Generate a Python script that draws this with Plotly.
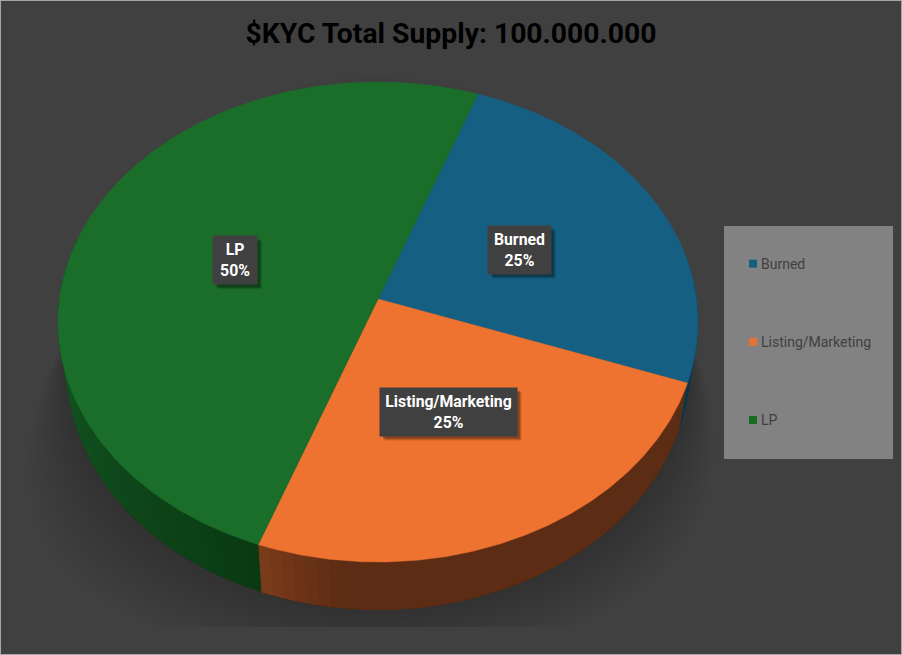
import numpy as np
import plotly.graph_objects as go

# --- data ---
categories = ["Burned", "Listing/Marketing", "LP"]
values = [25, 25, 50]
top_colors = ["#156082", "#EE7331", "#1B6E2A"]
legend_colors = ["#156082", "#E97132", "#196B24"]
title_text = "$KYC Total Supply: 100.000.000"

# --- perspective model of the disc, in page pixels ---
W, H = 902, 655
CX, CY, A, B, K = 378, 299, 318.5, 237.8, 0.0958
FIRST_ANGLE = 20
BOTTOM_SX, BOTTOM_SY, BOTTOM_DY = 0.974, 1.015, 43.7


def project(theta, r=1.0, sx=1.0, sy=1.0, dy=0.0):
    t = np.radians(theta)
    u, v = r * np.sin(t), r * np.cos(t)
    w = 1 + K * v
    return CX + sx * A * u / w, CY + dy - sy * B * v / w


def bottom(theta, r=1.0):
    return project(theta, r, BOTTOM_SX, BOTTOM_SY, BOTTOM_DY)


def mix(c1, c2, f):
    f = min(max(f, 0), 1)
    a = [int(c1[i:i + 2], 16) for i in (1, 3, 5)]
    b = [int(c2[i:i + 2], 16) for i in (1, 3, 5)]
    return "rgb(%d,%d,%d)" % tuple(round(p + (q - p) * f) for p, q in zip(a, b))


def side_color(i, theta):
    if i == 2:  # LP
        return mix("#0A3A12", "#17602A", (theta - 200) / 85)
    if i == 1:  # Listing/Marketing
        return mix("#5C2C14", "#7C3C1A", (theta - 186) / 14)
    return "#013A54"


fig = go.Figure()

# soft ground shadow, fading out above the disc's widest line
SHADOW_FLOOR, SHADOW_TOP = 627, 330
for n in range(14, 0, -1):
    th = np.linspace(0, 360, 181)
    x, y = bottom(th)
    f = np.clip((y - SHADOW_TOP) / 200, 0, 1)
    x = x + (x - CX) * n * 0.02 * f - n * 1.0 * f
    y = SHADOW_TOP + (y - SHADOW_TOP) * (1 + n * 0.016)
    y = np.minimum(y, SHADOW_FLOOR)
    fig.add_trace(go.Scatter(x=x, y=y, mode="lines", fill="toself", line=dict(width=0),
                             fillcolor="rgba(0,0,0,0.016)", hoverinfo="skip", showlegend=False))

# slice angles
total = sum(values)
edges = [FIRST_ANGLE]
for val in values:
    edges.append(edges[-1] + 360 * val / total)

# rim of the disc: each band runs to the slice end, the next one paints over it
for i in range(len(values)):
    lo, hi = edges[i], edges[i + 1]
    a0 = max(lo, 80)
    a1 = min(hi, 285)
    if a1 <= a0:
        continue
    steps = np.arange(a0, a1, 2.0).tolist() + [a1]
    for t0, t1 in zip(steps[:-1], steps[1:]):
        ts = np.linspace(t0, a1, 60)
        xt, yt = project(ts)
        xb, yb = bottom(ts)
        c = side_color(i, (t0 + t1) / 2)
        fig.add_trace(go.Scatter(x=np.r_[xt, xb[::-1]], y=np.r_[yt, yb[::-1]], mode="lines",
                                 fill="toself", fillcolor=c, line=dict(width=0),
                                 hoverinfo="skip", showlegend=False))

# top face
for i, cat in enumerate(categories):
    ts = np.linspace(edges[i], edges[i + 1], 181)
    xt, yt = project(ts)
    fig.add_trace(go.Scatter(x=np.r_[CX, xt, CX], y=np.r_[CY, yt, CY], mode="lines", fill="toself",
                             fillcolor=top_colors[i], line=dict(width=0.5, color=top_colors[i]),
                             name=cat, hoverinfo="name", showlegend=False))

# legend entries
for i, cat in enumerate(categories):
    fig.add_trace(go.Scatter(x=[None], y=[None], mode="markers", name=cat, legendgroup=cat,
                             marker=dict(symbol="square", size=8, color=legend_colors[i])))

# shapes and labels
box_w = [63, 137, 44]
box_h = 48
label_r = [0.5, 0.5, 0.485]
shapes = [
    dict(type="rect", xref="x", yref="y", x0=724, x1=893, y0=226, y1=459, layer="above",
         fillcolor="#828282", line=dict(width=0)),
    dict(type="rect", xref="paper", yref="paper", x0=0, x1=1, y0=0, y1=1, layer="above",
         fillcolor="rgba(0,0,0,0)", line=dict(width=2, color="#A6A6A6")),
]
annotations = []
for i, cat in enumerate(categories):
    mid = (edges[i] + edges[i + 1]) / 2
    lx, ly = project(mid, label_r[i])
    lx, ly = float(lx), float(ly)
    for off, alpha in ((5, 0.10), (4, 0.15), (3, 0.22)):
        shapes.append(dict(type="rect", xref="x", yref="y", layer="above",
                           x0=lx - box_w[i] / 2 + off, x1=lx + box_w[i] / 2 + off,
                           y0=ly - box_h / 2 + off, y1=ly + box_h / 2 + off,
                           fillcolor="rgba(0,0,0,%.2f)" % alpha, line=dict(width=0)))
    pct = round(100 * values[i] / total)
    annotations.append(dict(x=lx, y=ly, xref="x", yref="y", showarrow=False, align="center",
                            text="<b>%s</b><br><b>%d%%</b>" % (cat, pct),
                            width=box_w[i], height=box_h, bgcolor="#404040", borderpad=0,
                            font=dict(family="Roboto", size=15.8, color="white")))

fig.update_layout(
    width=W, height=H, margin=dict(l=0, r=0, t=0, b=0), autosize=False,
    paper_bgcolor="#404040", plot_bgcolor="#404040",
    title=dict(text="<b>%s</b>" % title_text, x=0.5, xanchor="center", xref="paper",
               y=1 - 33 / H, yanchor="middle", yref="paper",
               font=dict(family="Roboto", size=28.3, color="#000000")),
    xaxis=dict(range=[0, W], visible=False, domain=[0, 1]),
    yaxis=dict(range=[H, 0], visible=False, domain=[0, 1]),
    shapes=shapes, annotations=annotations,
    showlegend=True,
    legend=dict(x=733 / W, y=1 - 248 / H, xanchor="left", yanchor="top", bgcolor="rgba(0,0,0,0)",
                tracegroupgap=57, itemclick=False, itemdoubleclick=False,
                font=dict(family="Roboto", size=14, color="#404040")),
)

post = """
document.documentElement.style.overflow='hidden';
document.body.style.margin='0';
document.body.style.overflow='hidden';
document.querySelectorAll('.legendtext').forEach(function(t){t.setAttribute('x', parseFloat(t.getAttribute('x'))-12);});
"""
fig.write_html("out.html", post_script=post, config={"displayModeBar": False})
